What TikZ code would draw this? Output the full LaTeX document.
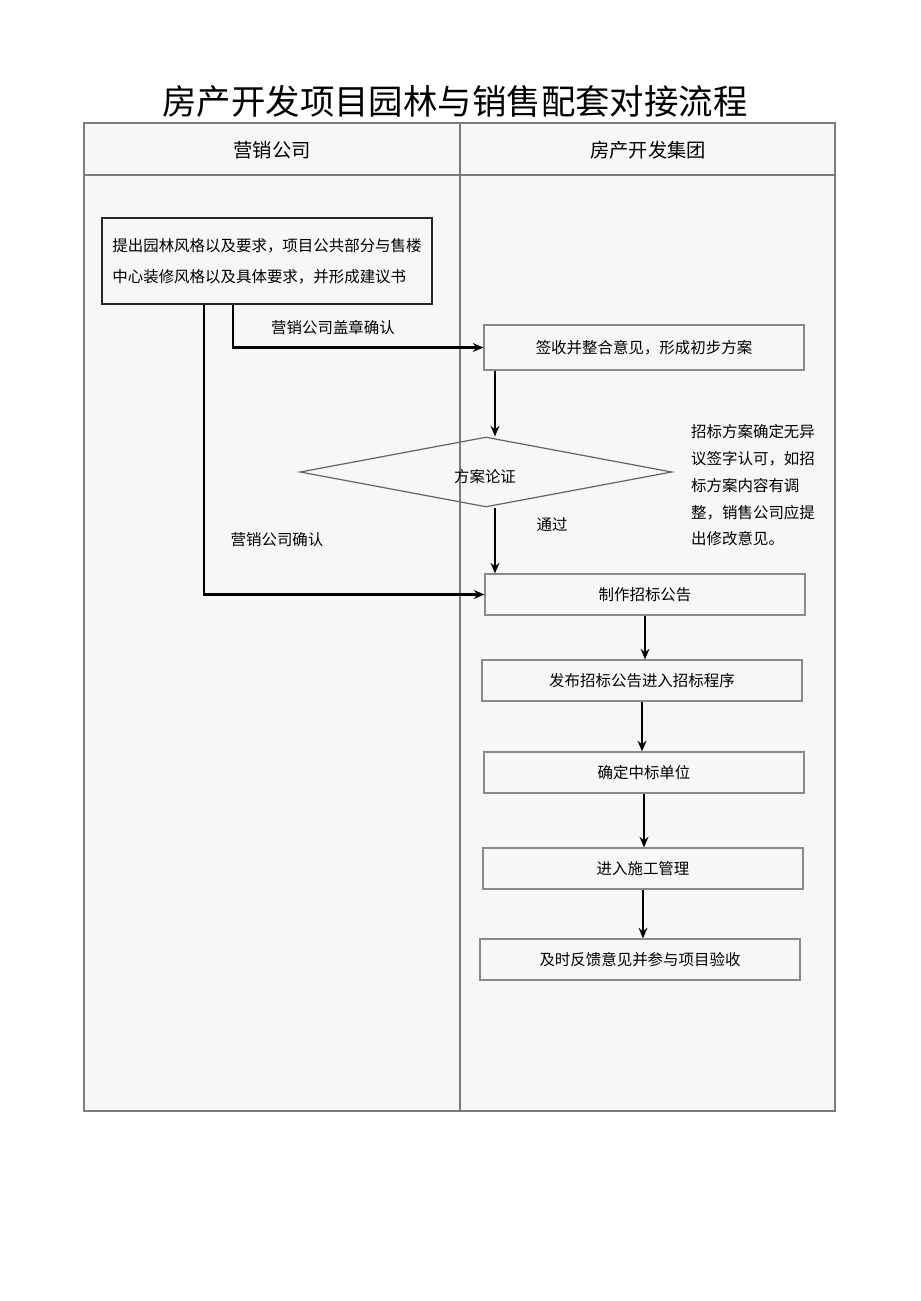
\documentclass[tikz,border=0pt]{standalone}
\usepackage{fontspec}
\setmainfont{Noto Sans CJK SC}
\usetikzlibrary{arrows.meta,shapes.geometric}
\definecolor{lanegray}{HTML}{F7F7F7}
\definecolor{rulegray}{HTML}{7C7C7C}
\definecolor{boxgray}{HTML}{8A8A8A}
\tikzset{
  stepbox/.style={draw=boxgray, line width=0.7pt, minimum width=6.4cm, minimum height=0.82cm},
  arr/.style={-{Stealth[length=6pt,width=5pt]}, line width=1.3pt},
}
\begin{document}
\begin{tikzpicture}[x=0.02cm, y=-0.02cm, font=\fontsize{8.8pt}{10pt}\selectfont]
\useasboundingbox (0,0) rectangle (920,1301);
\node (title) at (455,101) {\fontsize{19.6pt}{24pt}\selectfont 房产开发项目园林与销售配套对接流程};
% lanes
\draw [rulegray, line width=1.2pt, fill=lanegray] (84,123) rectangle (835,1111);
\draw [rulegray, line width=0.8pt] (84,175) -- (835,175) (460,123) -- (460,1111);
\node [font=\fontsize{11pt}{13pt}\selectfont] (laneA) at (272,150) {营销公司};
\node [font=\fontsize{11pt}{13pt}\selectfont] (laneB) at (648,150) {房产开发集团};
% 营销公司
\node [stepbox, draw=black!85, line width=1pt, minimum width=6.6cm, minimum height=1.72cm,
  align=left, font=\fontsize{8.8pt}{0.62cm}\selectfont] (req) at (267,261)
  {提出园林风格以及要求，项目公共部分与售楼\\中心装修风格以及具体要求，并形成建议书};
\coordinate (cA) at (233,0);
\coordinate (cB) at (204,0);
\coordinate (cC) at (495,0);
% 房产开发集团
\node [stepbox, minimum height=0.9cm] (sign) at (644,347.5) {签收并整合意见，形成初步方案};
\node [draw=black!60, line width=0.7pt, diamond, aspect=5.3, inner sep=0pt,
  minimum width=7.44cm, minimum height=1.4cm] (plan) at (486,472) {};
\node (planlbl) at (485,477) {方案论证};
\node [stepbox] (make) at (645,594.5) {制作招标公告};
\node [stepbox] (publish) at (642,680.5) {发布招标公告进入招标程序};
\node [stepbox] (winner) at (644,772.5) {确定中标单位};
\node [stepbox] (build) at (643,868.5) {进入施工管理};
\node [stepbox] (feedback) at (640,959.5) {及时反馈意见并参与项目验收};
\node [anchor=west, align=left, font=\fontsize{8.8pt}{0.535cm}\selectfont] (memo) at (685,485.5)
  {招标方案确定无异\\议签字认可，如招\\标方案内容有调\\整，销售公司应提\\出修改意见。};
% flow
\draw [arr] (req.south -| cA) |- (sign.west);
\draw [arr] (req.south -| cB) |- (make.west);
\node (okA) at (333,328) {营销公司盖章确认};
\node (okB) at (277,540) {营销公司确认};
\draw [arr] (sign.south -| cC) -- (plan.north -| cC);
\draw [arr] (plan.south -| cC) -- (make.north -| cC);
\node (pass) at (552,525) {通过};
\foreach \a/\b in {make/publish, publish/winner, winner/build, build/feedback}
  \draw [arr] (\a.south) -- (\a.south |- \b.north);
\end{tikzpicture}
\end{document}
